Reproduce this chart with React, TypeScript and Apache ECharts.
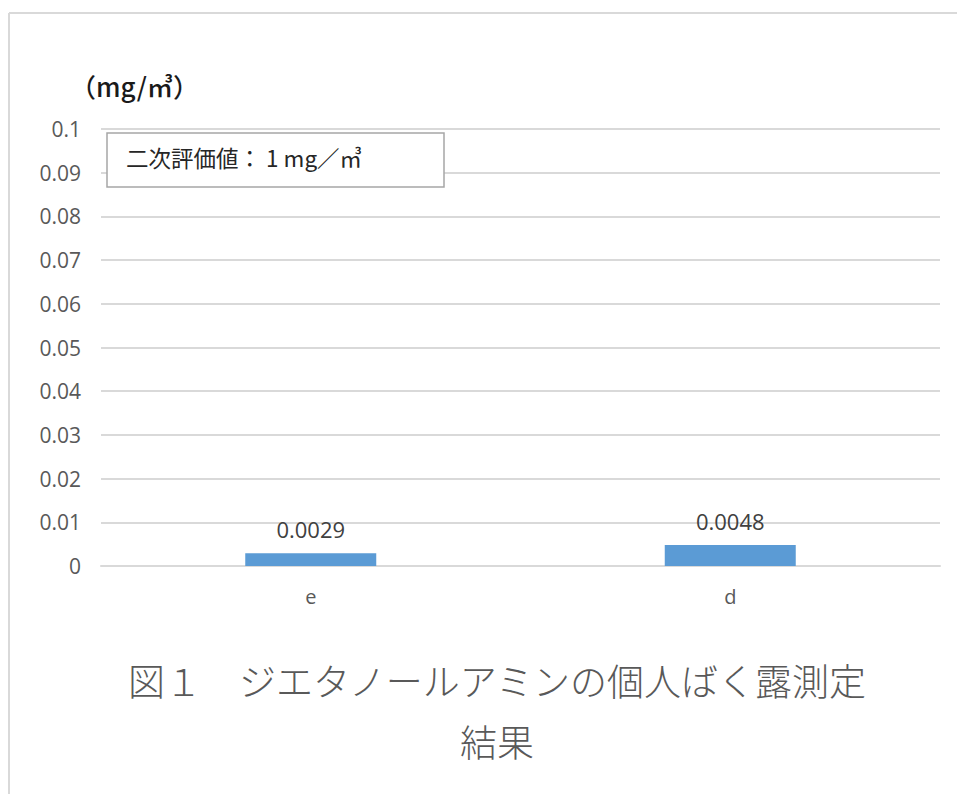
import React, { useEffect, useRef } from "react";
import * as echarts from "echarts";

const categories = ["e", "d"];
const values = [0.0029, 0.0048];
const valueLabels = ["0.0029", "0.0048"];
const yTickLabels = ["0", "0.01", "0.02", "0.03", "0.04", "0.05", "0.06", "0.07", "0.08", "0.09", "0.1"];
const unitLabel = "（mg/㎥）";
const noteText = "二次評価値： 1 mg／㎥";
const titleLine1 = "図１　ジエタノールアミンの個人ばく露測定";
const titleLine2 = "結果";

export default function App() {
  const ref = useRef<HTMLDivElement>(null);
  useEffect(() => {
    if (!ref.current) return;
    const chart = echarts.init(ref.current, undefined, { renderer: "svg" });
    const font = "'Open Sans', 'Noto Sans CJK JP', sans-serif";
    const cjk = "'Noto Sans CJK JP', sans-serif";
    chart.setOption({
      animation: false,
      backgroundColor: "#ffffff",
      grid: { left: 101, right: 17, top: 129, bottom: 228, containLabel: false },
      xAxis: {
        type: "category",
        data: categories,
        axisLine: { lineStyle: { color: "#d9d9d9", width: 2 } },
        axisTick: { show: false },
        axisLabel: { color: "#595959", fontSize: 20, fontFamily: font, margin: 20 },
      },
      yAxis: {
        type: "value",
        min: 0,
        max: 0.1,
        interval: 0.01,
        axisLine: { show: false },
        axisTick: { show: false },
        splitLine: { lineStyle: { color: "#d9d9d9", width: 2 } },
        axisLabel: {
          color: "#595959",
          fontSize: 21,
          fontFamily: font,
          margin: 20,
          formatter: (v: number) => yTickLabels[Math.round(v * 100)] ?? String(v),
        },
      },
      series: [
        {
          type: "bar",
          data: values,
          barWidth: 131,
          itemStyle: { color: "#5b9bd5" },
          label: {
            show: true,
            position: "top",
            distance: 13,
            color: "#404040",
            fontSize: 22,
            fontFamily: font,
            formatter: (p: any) => valueLabels[p.dataIndex],
          },
        },
      ],
      graphic: [
        { type: "line", shape: { x1: 9, y1: 13, x2: 957, y2: 13 }, style: { stroke: "#d9d9d9", lineWidth: 2 } },
        { type: "line", shape: { x1: 9, y1: 13, x2: 9, y2: 794 }, style: { stroke: "#d9d9d9", lineWidth: 2 } },
        {
          type: "text",
          left: 70,
          top: 72,
          style: { text: unitLabel, fontSize: 26, fontWeight: 500, fill: "#1a1a1a", fontFamily: cjk },
        },
        {
          type: "rect",
          shape: { x: 107, y: 133, width: 337, height: 54 },
          style: { fill: "#ffffff", stroke: "#a6a6a6", lineWidth: 1.5 },
          z: 10,
        },
        {
          type: "text",
          left: 126,
          top: 146,
          z: 11,
          style: { text: noteText, fontSize: 22.5, fill: "#262626", fontFamily: cjk },
        },
        {
          type: "text",
          x: 497,
          y: 680,
          style: {
            text: titleLine1,
            fontSize: 37,
            fontWeight: 300,
            fill: "#595959",
            fontFamily: cjk,
            align: "center",
            verticalAlign: "middle",
          },
        },
        {
          type: "text",
          x: 497,
          y: 741,
          style: {
            text: titleLine2,
            fontSize: 37,
            fontWeight: 300,
            fill: "#595959",
            fontFamily: cjk,
            align: "center",
            verticalAlign: "middle",
          },
        },
      ],
    });
    return () => chart.dispose();
  }, []);
  return <div ref={ref} style={{ position: "fixed", left: 0, top: 0, width: 957, height: 794 }} />;
}
